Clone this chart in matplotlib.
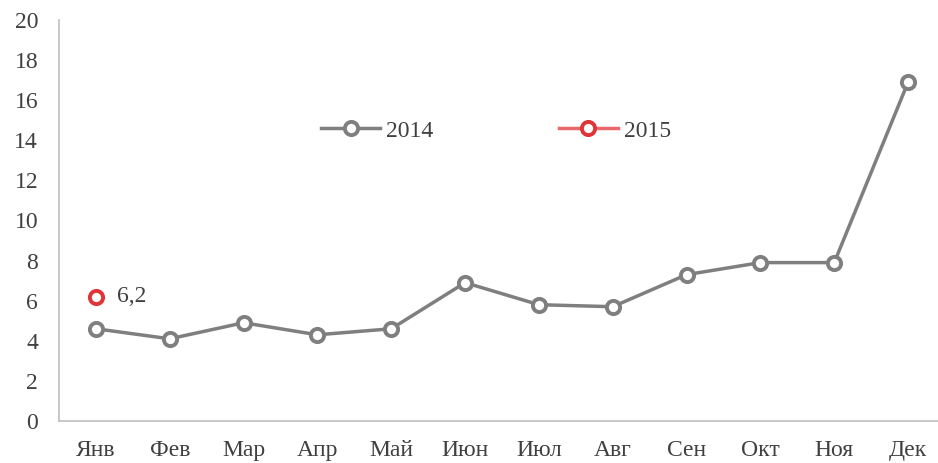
import matplotlib.pyplot as plt
from matplotlib.lines import Line2D

months = ["Янв", "Фев", "Мар", "Апр", "Май", "Июн", "Июл", "Авг", "Сен", "Окт", "Ноя", "Дек"]
values_2014 = [4.6, 4.1, 4.9, 4.3, 4.6, 6.9, 5.8, 5.7, 7.3, 7.9, 7.9, 16.9]
values_2015 = [6.2]
label_2015 = "6,2"

gray = "#7f7f7f"
red = "#e03438"
red_line = "#e9686b"
text_color = "#404040"

plt.rcParams["font.family"] = ["Liberation Serif", "DejaVu Serif"]

fig = plt.figure(figsize=(9.38, 4.63), dpi=100)
ax = fig.add_axes([59 / 938, 1 - 421 / 463, (945 - 59) / 938, 401 / 463])

x = list(range(len(months)))
ax.plot(x, values_2014, color=gray, lw=2.5, marker="o", ms=9.5,
        mfc="white", mec=gray, mew=2.8, clip_on=False, zorder=3)
ax.plot(x[:len(values_2015)], values_2015, color=red_line, lw=2.5, marker="o", ms=9.5,
        mfc="white", mec=red, mew=2.8, clip_on=False, zorder=4)
ax.annotate(label_2015, (0, values_2015[0]), xytext=(15, 0), textcoords="offset points",
            va="center", ha="left", fontsize=17, color=text_color)

ax.set_xlim(-0.5, 11.5)
ax.set_ylim(0, 20)
ax.set_yticks(range(0, 21, 2))
ax.set_xticks(x)
ax.set_xticklabels(months)
ax.tick_params(length=0, labelsize=17, labelcolor=text_color)
ax.tick_params(axis="y", pad=15)
ax.tick_params(axis="x", pad=14)
for s in ["top", "right"]:
    ax.spines[s].set_visible(False)
for s in ["left", "bottom"]:
    ax.spines[s].set_color("#bfbfbf")
    ax.spines[s].set_linewidth(1.2)

handles = [
    Line2D([], [], color=gray, lw=2.5, marker="o", ms=9.5, mfc="white", mec=gray, mew=2.8),
    Line2D([], [], color=red_line, lw=2.5, marker="o", ms=9.5, mfc="white", mec=red, mew=2.8),
]
fig.legend(handles, ["2014", "2015"], loc="center", bbox_to_anchor=(496 / 938, 1 - 131 / 463),
           ncol=2, frameon=False, fontsize=17, handlelength=2.5, handletextpad=0.25,
           columnspacing=5.3, labelcolor=text_color)

fig.savefig("out.png", dpi=100)
